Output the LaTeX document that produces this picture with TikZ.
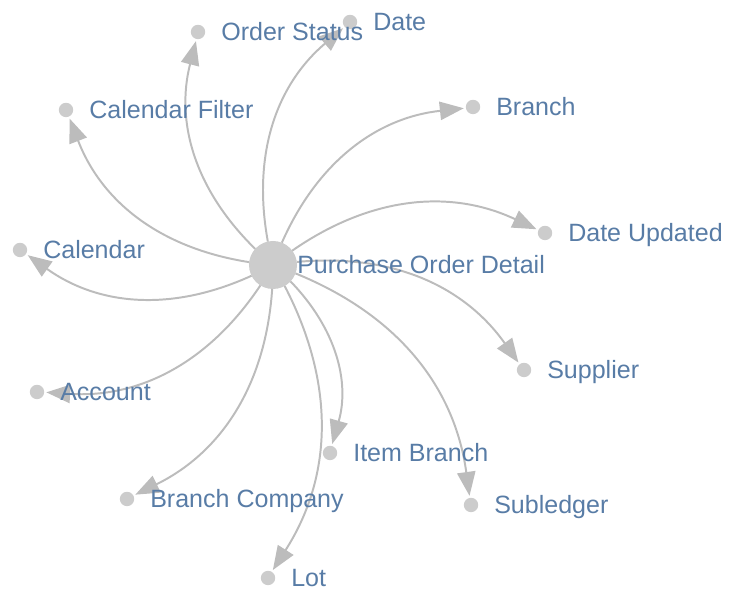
\documentclass[tikz,border=0pt]{standalone}
\usepackage{fontspec}
\setmainfont{Liberation Sans}
\usetikzlibrary{arrows.meta}
\definecolor{linkgray}{RGB}{188,188,188}
\definecolor{dotgray}{RGB}{204,204,204}
\definecolor{textblue}{RGB}{88,124,166}
\tikzset{
  dot/.style={circle, fill=dotgray, inner sep=0, outer sep=0, minimum size=0.36cm},
  hub/.style={circle, fill=dotgray, inner sep=0, outer sep=0, minimum size=1.2cm},
  lbl/.style={anchor=base west, inner sep=0, text=textblue, font=\fontsize{17.8}{20}\selectfont},
  link/.style={draw=linkgray, line width=1.4pt, shorten >=1.5pt,
    -{Triangle[length=17pt,width=13pt]}}
}
\begin{document}
\begin{tikzpicture}[x=0.025cm, y=0.025cm]
\useasboundingbox (0,0) rectangle (729,590);
%\draw[help lines] (0,0) grid[step=50] (729,590);
\node[hub] (pod) at (273,325) {};
%
\foreach \n/\x/\y in {os/198/558, dt/350/568, cf/66/480, br/473/483,
  du/545/357, cal/20/340, sup/524/220, acc/37/198, ib/330/137,
  sl/471/85, bc/127/91, lot/268/12}
{
  \node[dot] (\n) at (\x,\y) {};
  \draw[link] (pod) to[bend left=30] (\n);
}
%
\node[lbl] (podl) at (297,316.5) {Purchase Order Detail};
\foreach \n/\t in {os/Order Status, dt/Date, cf/Calendar Filter, br/Branch,
  du/Date Updated, cal/Calendar, sup/Supplier, acc/Account, ib/Item Branch,
  sl/Subledger, bc/Branch Company, lot/Lot}
\node[lbl] (\n l) at ([xshift=0.575cm, yshift=-0.21cm]\n.center) {\t};
\end{tikzpicture}
\end{document}
